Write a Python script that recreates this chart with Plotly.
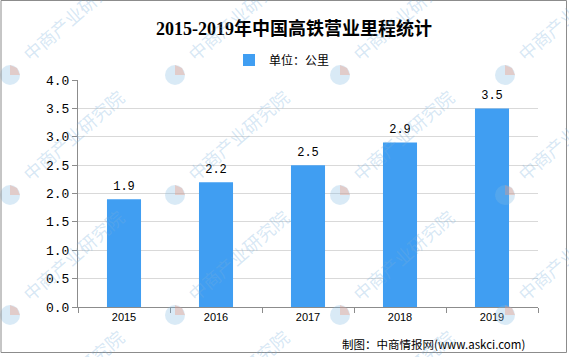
import plotly.graph_objects as go

years = ["2015", "2016", "2017", "2018", "2019"]
values = [1.9, 2.2, 2.5, 2.9, 3.5]
series_name = "单位：公里"
title_text = "2015-2019年中国高铁营业里程统计"
source_text = "制图：中商情报网(www.askci.com)"
watermark_text = "中商产业研究院"

W, H = 569, 357
L, R, T, B = 78, 31, 80, 50
PW, PH = W - L - R, H - T - B


def X(px):
    return (px - L) / PW


def Y(py):
    return (H - B - py) / PH


fig = go.Figure()
fig.add_trace(go.Bar(
    x=years, y=values, name=series_name,
    marker=dict(color="#409EF2", line=dict(width=0)),
    showlegend=True,
))
fig.add_trace(go.Scatter(
    x=years, y=values, mode="markers+text",
    text=[f"{v:.1f}" for v in values], textposition="top center",
    marker=dict(size=9, opacity=0),
    textfont=dict(family="Liberation Mono", size=12, color="#000000"),
    showlegend=False, hoverinfo="skip",
))

annotations = []
annotations.append(dict(
    x=X(527), y=Y(344), xref="paper", yref="paper", text=source_text,
    showarrow=False, xanchor="right", yanchor="middle",
    font=dict(family="Noto Sans CJK SC", size=11.5, color="#000000"),
))

shapes = []
# watermarks
logo_cols = [10, 175, 340, 505]
logo_rows = [75, 195, 315, 435]
for cx in logo_cols:
    for cy in logo_rows:
        annotations.append(dict(
            x=X(cx + 63), y=Y(cy - 60), xref="paper", yref="paper",
            text=watermark_text, showarrow=False, textangle=-41,
            xanchor="center", yanchor="middle",
            font=dict(family="Noto Sans CJK SC", size=18,
                      color="rgba(120,175,220,0.30)"),
        ))
        r = 10
        shapes.append(dict(
            type="circle", xref="paper", yref="paper",
            x0=X(cx - r), x1=X(cx + r), y0=Y(cy + r), y1=Y(cy - r),
            fillcolor="rgba(130,185,225,0.30)", line=dict(width=0),
            layer="above",
        ))
        shapes.append(dict(
            type="path", xref="paper", yref="paper",
            path=(f"M {X(cx)},{Y(cy)} L {X(cx)},{Y(cy - r)} "
                  f"L {X(cx + 0.7 * r)},{Y(cy - 0.7 * r)} "
                  f"L {X(cx + r)},{Y(cy)} Z"),
            fillcolor="rgba(240,150,120,0.35)", line=dict(width=0),
            layer="above",
        ))

# outer border
shapes.append(dict(
    type="rect", xref="paper", yref="paper",
    x0=X(1), x1=X(566.5), y0=Y(352.5), y1=Y(0.5),
    line=dict(color="#8c8c8c", width=1), fillcolor="rgba(0,0,0,0)",
    layer="above",
))

fig.update_layout(
    width=W, height=H,
    margin=dict(l=L, r=R, t=T, b=B, pad=0),
    paper_bgcolor="#ffffff", plot_bgcolor="#ffffff",
    bargap=0.63,
    title=dict(
        text=f"<b>{title_text}</b>", x=294 / W, xref="container",
        xanchor="center", y=1 - 29 / H, yref="container", yanchor="middle",
        font=dict(family="Liberation Serif, Noto Sans CJK SC", size=18,
                  color="#000000"),
    ),
    legend=dict(
        orientation="h", x=X(229), xanchor="left", y=Y(60),
        yanchor="middle", bgcolor="rgba(0,0,0,0)",
        font=dict(family="Noto Sans CJK SC", size=12, color="#000000"),
    ),
    xaxis=dict(
        type="category",
        showline=True, linecolor="#8c8c8c", linewidth=1,
        ticks="outside", tickson="boundaries", ticklen=5, tickcolor="#8c8c8c",
        tickfont=dict(family="Liberation Sans", size=11, color="#000000"),
        showgrid=False, zeroline=False,
    ),
    yaxis=dict(
        range=[0, 4], dtick=0.5, tickformat=".1f",
        showline=True, linecolor="#8c8c8c", linewidth=1,
        ticks="outside", ticklen=5, tickcolor="#8c8c8c",
        tickfont=dict(family="Liberation Mono", size=13, color="#000000"),
        showgrid=True, gridcolor="#d9d9d9", gridwidth=1, zeroline=False,
    ),
    annotations=annotations,
    shapes=shapes,
)

fig.write_html(
    "out.html",
    config={"displayModeBar": False},
    post_script="document.body.style.margin='0';document.body.style.overflow='hidden';",
)
